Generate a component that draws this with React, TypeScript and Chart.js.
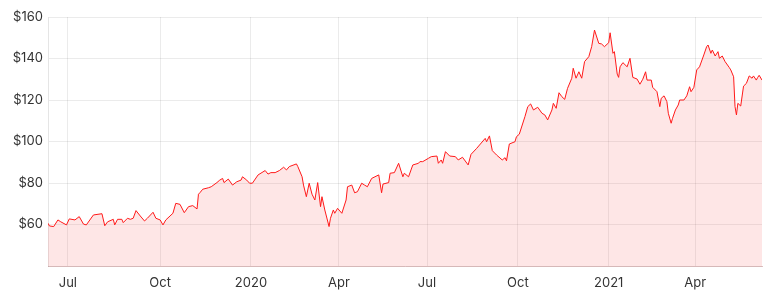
import React, { useEffect, useRef } from "react";
import { Chart, registerables } from "chart.js";

Chart.register(...registerables);

// trading-day index of each read point (0 = first day shown, ~mid June 2019)
const tradingDay = [
  0, 1, 4, 7, 9, 13, 15, 19, 22, 25, 27, 32, 38, 40, 42, 46, 47, 49, 52, 53,
  56, 58, 60, 62, 65, 68, 70, 74, 76, 79, 81, 83, 88, 90, 93, 96, 99, 102, 105, 106,
  107, 109, 113, 115, 119, 121, 123, 124, 127, 130, 133, 136, 137, 140, 142, 144, 148, 153, 155, 157,
  160, 163, 166, 168, 170, 175, 176, 179, 180, 182, 184, 186, 188, 190, 192, 193, 195, 198, 199, 201,
  202, 204, 207, 210, 211, 214, 216, 218, 221, 223, 225, 228, 233, 235, 236, 240, 241, 244, 247, 250,
  251, 254, 257, 261, 262, 264, 268, 270, 274, 275, 277, 278, 280, 283, 287, 289, 292, 296, 298, 302,
  304, 308, 309, 311, 313, 316, 320, 322, 323, 325, 329, 330, 332, 336, 338, 340, 342, 345, 348, 350,
  352, 355, 356, 358, 360, 362, 364, 366, 369, 370, 372, 374, 376, 378, 381, 383, 385, 388, 390, 392,
  395, 396, 398, 399, 401, 402, 403, 405, 408, 410, 412, 415, 417, 419, 421, 422, 425, 426, 429, 431,
  432, 434, 436, 437, 439, 440, 442, 444, 445, 448, 450, 452, 453, 455, 457, 459, 462, 464, 465, 467,
  468, 470, 472, 473, 475, 477, 480, 481, 483, 484, 485, 486, 488, 490, 492, 494, 496, 497, 499, 500,
  501, 503,
];

// closing price (USD) at each of those days
const price = [
  60.6, 59.3, 59.0, 62.2, 61.3, 59.8, 62.7, 62.2, 63.8, 60.2, 59.8, 64.6, 65.2, 59.4, 61.3, 62.5, 59.8, 62.5, 62.5, 60.9,
  63.0, 62.5, 63.0, 66.7, 64.1, 61.7, 63.0, 65.9, 63.0, 62.2, 59.8, 62.2, 65.4, 70.2, 69.7, 65.7, 68.6, 69.1, 67.5, 74.6,
  75.3, 77.0, 77.7, 78.2, 80.2, 81.4, 82.2, 80.2, 81.9, 79.0, 80.6, 81.4, 83.0, 81.4, 79.9, 79.9, 83.9, 86.0, 84.3, 85.0,
  85.0, 86.0, 87.6, 86.3, 87.9, 89.2, 87.9, 83.0, 79.0, 73.4, 79.9, 74.6, 71.8, 80.2, 68.6, 73.4, 67.0, 59.0, 63.0, 67.0,
  65.4, 67.8, 65.4, 71.8, 78.2, 79.0, 75.3, 75.8, 79.9, 79.0, 78.2, 82.2, 83.9, 75.3, 79.5, 80.2, 84.7, 85.0, 89.5, 83.0,
  84.7, 83.0, 88.7, 89.5, 90.3, 90.3, 91.9, 92.7, 93.0, 89.5, 91.1, 89.5, 95.1, 93.0, 92.7, 91.1, 92.4, 88.7, 93.8, 96.7,
  98.3, 101.5, 99.9, 102.7, 95.6, 93.5, 91.1, 92.2, 90.7, 98.8, 99.9, 102.3, 103.5, 112.0, 116.8, 118.1, 115.2, 116.5, 113.6, 112.8,
  110.4, 115.2, 118.4, 116.0, 123.5, 121.6, 120.3, 125.6, 130.5, 135.3, 130.5, 133.6, 130.5, 138.5, 140.9, 145.7, 153.7, 147.3, 147.0, 145.7,
  147.6, 152.4, 142.5, 143.3, 132.5, 130.9, 136.0, 138.0, 136.0, 140.1, 130.9, 130.1, 127.6, 130.0, 133.6, 129.6, 129.6, 126.1, 124.0, 116.8,
  120.8, 122.0, 119.2, 113.6, 108.8, 111.2, 115.2, 117.6, 120.0, 120.0, 122.0, 126.4, 124.0, 126.1, 134.5, 136.0, 141.7, 145.7, 146.5, 142.5,
  144.1, 141.2, 143.3, 140.1, 141.2, 138.5, 135.6, 134.5, 131.2, 116.8, 112.8, 118.4, 117.1, 126.7, 128.0, 131.6, 130.5, 131.6, 129.6, 130.9,
  131.9, 129.6,
];

const tickLabels = ["Jul", "Oct", "2020", "Apr", "Jul", "Oct", "2021", "Apr"];
const tickDays = [14, 79, 143, 205, 267, 331, 395, 456];
const yTicks = [40, 60, 80, 100, 120, 140, 160];

export default function App() {
  const canvasRef = useRef<HTMLCanvasElement | null>(null);

  useEffect(() => {
    document.body.style.margin = "0";
    const canvas = canvasRef.current;
    if (!canvas) return;
    const points = tradingDay.map((d, i) => ({ x: d, y: price[i] }));
    const font = { family: "Inter, 'Noto Sans', sans-serif", size: 13 };
    const chart = new Chart(canvas, {
      type: "line",
      data: {
        datasets: [
          {
            data: points,
            borderColor: "rgb(255, 25, 25)",
            borderWidth: 1,
            backgroundColor: "rgba(250, 60, 60, 0.13)",
            fill: "start",
            pointRadius: 0,
            tension: 0,
          },
        ],
      },
      options: {
        animation: false,
        responsive: true,
        maintainAspectRatio: false,
        layout: { padding: { top: 17, right: 5, left: 0, bottom: 0 } },
        plugins: { legend: { display: false }, tooltip: { enabled: false } },
        scales: {
          x: {
            type: "linear",
            min: 0,
            max: 503,
            afterBuildTicks: (scale: any) => {
              scale.ticks = tickDays.map((v) => ({ value: v }));
            },
            afterFit: (scale: any) => {
              scale.height = 33;
            },
            ticks: {
              padding: 9,
              color: "#333",
              font,
              maxRotation: 0,
              autoSkip: false,
              callback: (v: any) => {
                const k = tickDays.indexOf(Number(v));
                return k >= 0 ? tickLabels[k] : "";
              },
            },
            grid: { color: "rgba(0,0,0,0.08)", drawTicks: false },
            border: { color: "rgba(200,150,150,0.6)" },
          },
          y: {
            min: 40,
            max: 160,
            afterBuildTicks: (scale: any) => {
              scale.ticks = yTicks.map((v) => ({ value: v }));
            },
            afterFit: (scale: any) => {
              scale.width = 48;
            },
            ticks: {
              padding: 5,
              color: "#333",
              font,
              callback: (v: any) => (Number(v) === 40 ? "" : "$" + v),
            },
            grid: { color: "rgba(0,0,0,0.08)", drawTicks: false },
            border: { color: "rgba(0,0,0,0.1)" },
          },
        },
      },
    });
    return () => chart.destroy();
  }, []);

  return (
    <div style={{ position: "relative", width: 767, height: 299 }}>
      <canvas ref={canvasRef} />
    </div>
  );
}
